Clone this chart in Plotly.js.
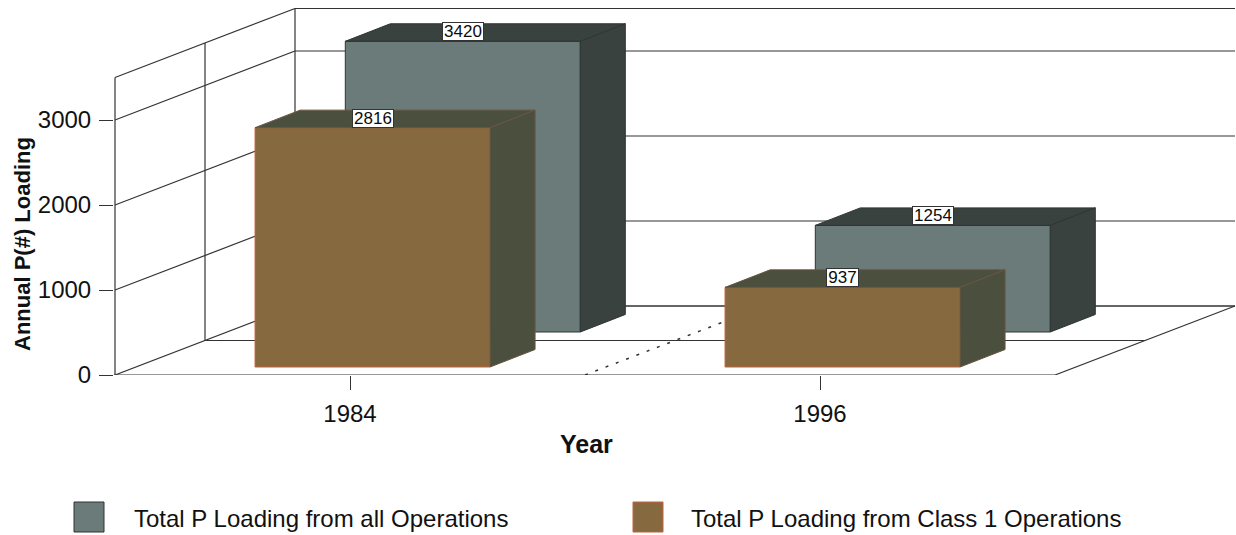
<!DOCTYPE html>
<html>
<head>
<meta charset="utf-8">
<script src="https://cdn.plot.ly/plotly-3.0.1.min.js"></script>
<style>html,body{margin:0;padding:0;background:#fff;overflow:hidden}</style>
</head>
<body>
<div id="chart" style="width:1236px;height:535px"></div>
<script>
// Data
const categories = ['1984', '1996'];
const allOperations = [3420, 1254];
const class1Operations = [2816, 937];
const yTicks = [0, 1000, 2000, 3000];
const allOperationsName = 'Total P Loading from all Operations';
const class1OperationsName = 'Total P Loading from Class 1 Operations';

// Oblique projection of the box: a point d deep moves right and up
const W = 1236, H = 535, L = 114, FLOOR = 375;
const PX_PER_CAT = 470, PX_PER_UNIT = 0.085;
const xMin = -(350 - L) / PX_PER_CAT, xMax = (W - 350) / PX_PER_CAT;
const yMax = FLOOR / PX_PER_UNIT;
const boxDX = 180 / PX_PER_CAT, boxDY = 69 / PX_PER_UNIT, wallTop = 3500;
const barW = 235 / PX_PER_CAT, barDX = 45 / PX_PER_CAT, barDY = 206;
const rows = {
  back:  {shift: 0.24,  base: 506, face: '#6a7b79', dark: '#39423f', edge: '#2f3533', depthEdge: '#2f3533'},
  front: {shift: 0.048, base: 94,  face: '#86693f', dark: '#4a4f3e', edge: '#c4623c', depthEdge: '#6b5540'}
};
const LINE = {color: '#333333', width: 1.2};

const idx = categories.map((_, i) => i);
const seg = (x0, y0, x1, y1, line) => ({type: 'line', xref: 'x', yref: 'y', layer: 'below',
  x0, y0, x1, y1, line: line || LINE});

function barTrace(values, row, name) {
  return {type: 'bar', name, x: idx.map(i => i + row.shift), y: values,
    base: values.map(() => row.base), width: barW,
    marker: {color: row.face, line: {color: row.edge, width: 1}}, showlegend: false,
    customdata: values, hovertemplate: '%{customdata}<extra>' + name + '</extra>'};
}
function poly(xs, ys, row) {
  return {type: 'scatter', mode: 'lines', x: xs, y: ys, fill: 'toself', fillcolor: row.dark,
    line: {color: row.depthEdge, width: 1}, hoverinfo: 'skip', showlegend: false};
}
function depthFaces(values, row) {
  const out = [];
  values.forEach((v, i) => {
    const x0 = i + row.shift - barW / 2, x1 = x0 + barW, b = row.base, t = b + v;
    out.push(poly([x0, x1, x1 + barDX, x0 + barDX, x0], [t, t, t + barDY, t + barDY, t], row));
    out.push(poly([x1, x1, x1 + barDX, x1 + barDX, x1], [b, t, t + barDY, b + barDY, b], row));
  });
  return out;
}
const traces = [
  barTrace(allOperations, rows.back, allOperationsName),
  barTrace(class1Operations, rows.front, class1OperationsName),
  ...depthFaces(allOperations, rows.back),
  ...depthFaces(class1Operations, rows.front)
];

// Box: floor, walls and gridlines
const xa = -0.5, xb = 1.5;
const shapes = [
  seg(xa - 14 / PX_PER_CAT, 0, xb, 0),
  seg(xb, 0, xb + boxDX, boxDY),
  seg(xa + boxDX / 2, boxDY / 2, xb + boxDX / 2, boxDY / 2),
  seg(xa + boxDX, boxDY, xb + boxDX, boxDY),
  seg(xa, 0, xa, wallTop),
  seg(xa + boxDX / 2, boxDY / 2, xa + boxDX / 2, wallTop + boxDY / 2),
  seg(xa + boxDX, boxDY, xa + boxDX, wallTop + boxDY),
  seg(xa, wallTop, xa + boxDX, wallTop + boxDY),
  seg(xa + boxDX, wallTop + boxDY, xb + boxDX, wallTop + boxDY),
  seg(0.5, 0, 0.5 + boxDX, boxDY, {color: '#333333', width: 1.5, dash: '3px,8px'})
];
yTicks.forEach(t => {
  shapes.push(seg(xa, t, xa + boxDX, t + boxDY));
  shapes.push(seg(xa + boxDX, t + boxDY, xb + boxDX, t + boxDY));
});

// Legend swatches, placed in pixels of the page
const px = x => (x - L) / (W - L), py = y => (FLOOR - y) / FLOOR;
const swatch = (x, row) => ({type: 'rect', xref: 'paper', yref: 'paper',
  x0: px(x), x1: px(x + 30), y0: py(532), y1: py(502),
  fillcolor: row.face, line: {color: row.edge, width: 1}});
shapes.push(swatch(74, rows.back), swatch(633, rows.front));

const FONT = 'Liberation Sans, Arial, sans-serif', INK = '#111111';
const annotations = [];
function valueLabel(values, row) {
  values.forEach((v, i) => annotations.push({xref: 'x', yref: 'y', x: i + row.shift, y: row.base + v,
    text: String(v), showarrow: false, xanchor: 'center', yanchor: 'bottom',
    width: v >= 1000 ? 40 : 31, height: 17,
    bgcolor: '#ffffff', bordercolor: '#333333', borderwidth: 1, borderpad: 0,
    font: {family: FONT, size: 17, color: '#0c0c0c'}}));
}
valueLabel(allOperations, rows.back);
valueLabel(class1Operations, rows.front);
const pageText = (text, x, y, extra, size, bold) => annotations.push(Object.assign({
  xref: 'paper', yref: 'paper', x: px(x), y: py(y), text: bold ? '<b>' + text + '</b>' : text,
  showarrow: false, font: {family: FONT, size, color: INK}}, extra));
pageText('Annual P(#) Loading', 22, 244, {textangle: -90, xanchor: 'center', yanchor: 'middle'}, 22, true);
pageText('Year', 586, 444, {xanchor: 'center', yanchor: 'middle'}, 25, true);
pageText(allOperationsName, 132, 518, {xanchor: 'left', yanchor: 'middle'}, 24);
pageText(class1OperationsName, 689, 518, {xanchor: 'left', yanchor: 'middle'}, 24);

const layout = {
  width: W, height: H, margin: {l: L, r: 0, t: 0, b: H - FLOOR, pad: 0},
  paper_bgcolor: '#ffffff', plot_bgcolor: '#ffffff',
  barmode: 'overlay', showlegend: false,
  font: {family: FONT, size: 24, color: INK},
  xaxis: {range: [xMin, xMax], tickmode: 'array', tickvals: idx, ticktext: categories,
    ticks: 'outside', ticklen: 14, tickcolor: '#333333', tickwidth: 1.2, ticklabelstandoff: 3,
    showgrid: false, zeroline: false, showline: false, fixedrange: true,
    tickfont: {family: FONT, size: 24, color: INK}},
  yaxis: {range: [0, yMax], tickmode: 'array', tickvals: yTicks, ticktext: yTicks.map(String),
    ticks: 'outside', ticklen: 14, tickcolor: '#333333', tickwidth: 1.2, ticklabelstandoff: 3,
    showgrid: false, zeroline: false, showline: false, fixedrange: true,
    tickfont: {family: FONT, size: 24, color: INK}},
  shapes, annotations
};
Plotly.newPlot('chart', traces, layout, {displayModeBar: false, responsive: false});
</script>
</body>
</html>
